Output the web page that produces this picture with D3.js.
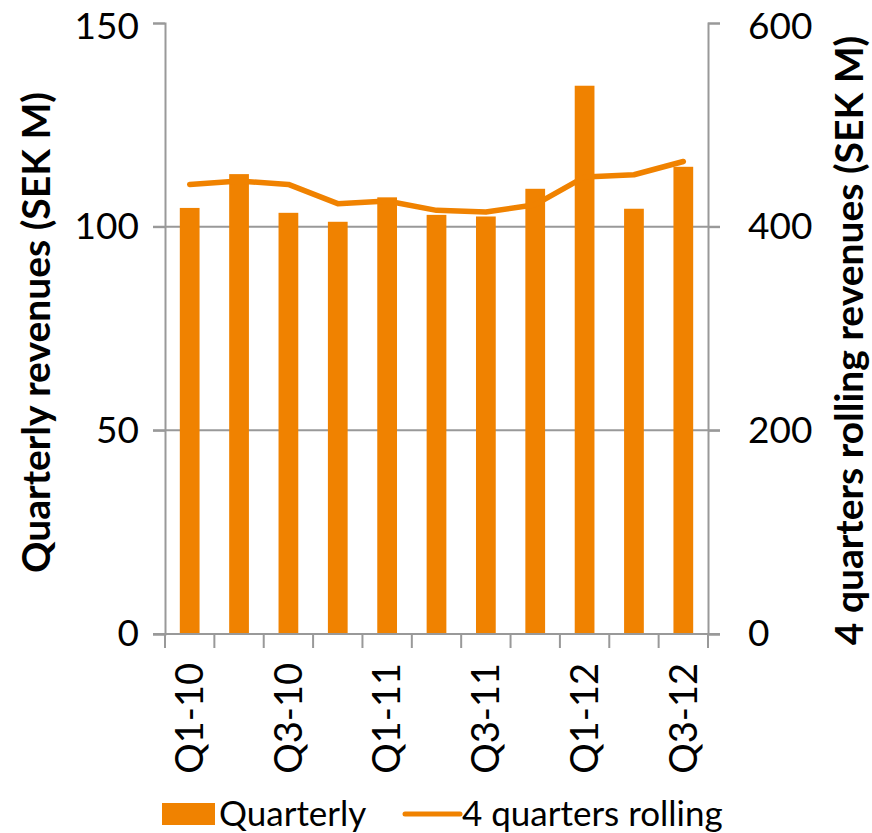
<!DOCTYPE html>
<html>
<head>
<meta charset="utf-8">
<script src="https://cdn.jsdelivr.net/npm/d3@7"></script>
<style>
  body { margin: 0; background: #fff; }
  svg { display: block; font-family: Lato, "Open Sans", sans-serif; }
</style>
</head>
<body>
<div id="chart"></div>
<script>
// ------------------------------------------------------------------
// data
// ------------------------------------------------------------------
var quarters  = ["Q1-10", "Q2-10", "Q3-10", "Q4-10", "Q1-11", "Q2-11", "Q3-11", "Q4-11", "Q1-12", "Q2-12", "Q3-12"];
var quarterly = [104.6, 112.9, 103.4, 101.2, 107.2, 102.9, 102.5, 109.3, 134.6, 104.4, 114.7];
var rolling   = [441.5, 444.9, 441.5, 422.6, 425.2, 416.0, 414.4, 421.6, 448.8, 451.0, 464.0];
var left_ticks  = [0, 50, 100, 150];
var right_ticks = [0, 200, 400, 600];
var shown_labels = ["Q1-10", "Q3-10", "Q1-11", "Q3-11", "Q1-12", "Q3-12"];

// ------------------------------------------------------------------
// layout
// ------------------------------------------------------------------
var W = 872, H = 833;
var plot = {left: 165, right: 708, top: 23, bottom: 634};
var orange = "#F08200";
var grey = "#999999";
var font_size = 37;

var svg = d3.select("#chart").append("svg")
    .attr("width", W)
    .attr("height", H);

var x = d3.scaleBand()
    .domain(quarters)
    .range([plot.left, plot.right])
    .paddingInner(0.6)
    .paddingOuter(0.3);

var y_left = d3.scaleLinear().domain([0, 150]).range([plot.bottom, plot.top]);
var y_right = d3.scaleLinear().domain([0, 600]).range([plot.bottom, plot.top]);

// gridlines (no line at the top)
svg.append("g")
  .selectAll("line")
  .data([50, 100])
  .enter().append("line")
    .attr("x1", plot.left - 12)
    .attr("x2", plot.right + 12)
    .attr("y1", function(d) { return y_left(d); })
    .attr("y2", function(d) { return y_left(d); })
    .attr("stroke", grey)
    .attr("stroke-width", 2);

// bars
svg.append("g")
  .selectAll("rect")
  .data(quarterly)
  .enter().append("rect")
    .attr("x", function(d, i) { return x(quarters[i]); })
    .attr("width", x.bandwidth())
    .attr("y", function(d) { return y_left(d); })
    .attr("height", function(d) { return y_left(0) - y_left(d); })
    .attr("fill", orange);

// left axis
var left_axis = svg.append("g")
    .attr("transform", "translate(" + plot.left + ",0)")
    .call(d3.axisLeft(y_left).tickValues(left_ticks).tickSize(12).tickPadding(14));

// right axis
var right_axis = svg.append("g")
    .attr("transform", "translate(" + plot.right + ",0)")
    .call(d3.axisRight(y_right).tickValues(right_ticks).tickSize(12).tickPadding(28));

[left_axis, right_axis].forEach(function(g) {
  g.select(".domain").attr("stroke", grey).attr("stroke-width", 2);
  g.selectAll(".tick line").attr("stroke", grey).attr("stroke-width", 2);
  g.selectAll(".tick text")
    .attr("font-size", font_size)
    .attr("font-family", "Lato, sans-serif")
    .attr("fill", "#000");
});
// keep the top labels inside the picture
left_axis.selectAll(".tick text").filter(function(d) { return d === 150; }).attr("dy", "0.42em");
right_axis.selectAll(".tick text").filter(function(d) { return d === 600; }).attr("dy", "0.42em");

// bottom axis: ticks at category boundaries
var step = x.step();
var boundaries = d3.range(quarters.length + 1).map(function(i) { return plot.left + i * step; });

var bottom = svg.append("g");
bottom.append("line")
    .attr("x1", plot.left - 12)
    .attr("x2", plot.right + 12)
    .attr("y1", plot.bottom)
    .attr("y2", plot.bottom)
    .attr("stroke", grey)
    .attr("stroke-width", 2);
bottom.selectAll("line.tick")
  .data(boundaries)
  .enter().append("line")
    .attr("class", "tick")
    .attr("x1", function(d) { return d; })
    .attr("x2", function(d) { return d; })
    .attr("y1", plot.bottom)
    .attr("y2", plot.bottom + 14)
    .attr("stroke", grey)
    .attr("stroke-width", 2);

bottom.selectAll("text")
  .data(shown_labels)
  .enter().append("text")
    .attr("transform", function(d) {
      return "translate(" + (x(d) + x.bandwidth() / 2) + "," + (plot.bottom + 29) + ") rotate(-90)";
    })
    .attr("text-anchor", "end")
    .attr("dy", "0.35em")
    .attr("font-size", 38)
    .text(function(d) { return d; });

// rolling line
var line = d3.line()
    .x(function(d, i) { return x(quarters[i]) + x.bandwidth() / 2; })
    .y(function(d) { return y_right(d); });

svg.append("path")
    .datum(rolling)
    .attr("d", line)
    .attr("fill", "none")
    .attr("stroke", orange)
    .attr("stroke-width", 5.5)
    .attr("stroke-linecap", "round")
    .attr("stroke-linejoin", "round");

// axis titles
svg.append("text")
    .attr("transform", "translate(36," + ((plot.top + plot.bottom) / 2 + 4) + ") rotate(-90)")
    .attr("text-anchor", "middle")
    .attr("dy", "0.35em")
    .attr("font-size", 39)
    .attr("font-weight", "bold")
    .text("Quarterly revenues (SEK M)");

svg.append("text")
    .attr("transform", "translate(849," + ((plot.top + plot.bottom) / 2 + 12) + ") rotate(-90)")
    .attr("text-anchor", "middle")
    .attr("dy", "0.35em")
    .attr("font-size", 39)
    .attr("font-weight", "bold")
    .text("4 quarters rolling revenues (SEK M)");

// legend
var legend = svg.append("g").attr("transform", "translate(0,814)");
legend.append("rect")
    .attr("x", 162).attr("y", -11)
    .attr("width", 53).attr("height", 22)
    .attr("fill", orange);
legend.append("text")
    .attr("x", 219).attr("dy", "0.35em")
    .attr("font-size", 35)
    .text("Quarterly");
legend.append("line")
    .attr("x1", 405).attr("x2", 460)
    .attr("stroke", orange)
    .attr("stroke-width", 5)
    .attr("stroke-linecap", "round");
legend.append("text")
    .attr("x", 462).attr("dy", "0.35em")
    .attr("font-size", 35)
    .text("4 quarters rolling");
</script>
</body>
</html>
